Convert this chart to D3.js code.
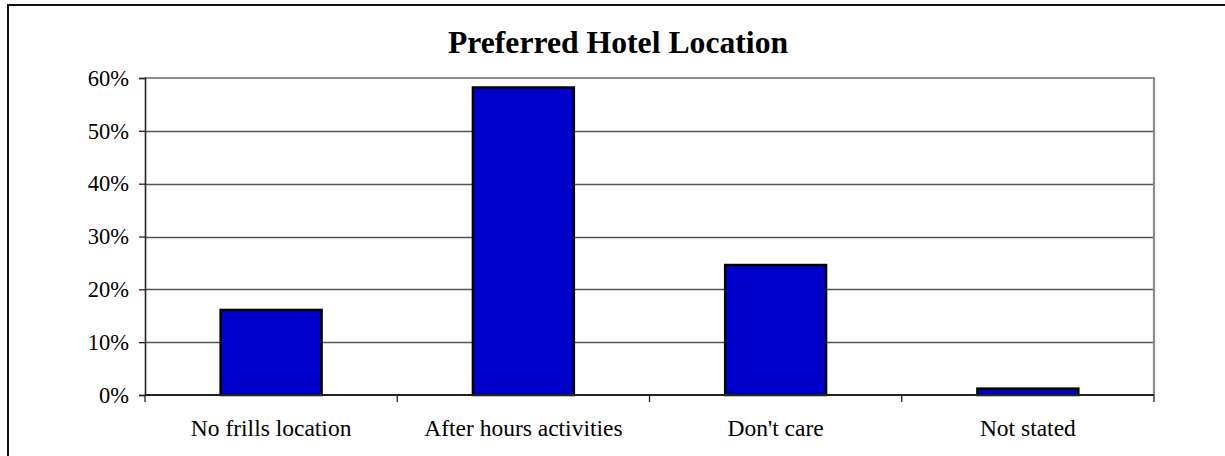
<!DOCTYPE html>
<html>
<head>
<meta charset="utf-8">
<script src="https://cdn.jsdelivr.net/npm/d3@7"></script>
<style>
  html, body { margin: 0; padding: 0; background: #fff; }
  svg { display: block; }
</style>
</head>
<body>
<svg id="chart" width="1225" height="456"></svg>
<script>
const categories = ["No frills location", "After hours activities", "Don't care", "Not stated"];
const values = [0.161, 0.582, 0.246, 0.012];
const yTicks = [0, 0.1, 0.2, 0.3, 0.4, 0.5, 0.6];
const titleText = "Preferred Hotel Location";

const svg = d3.select("#chart");
const font = "'Liberation Serif', 'Times New Roman', serif";

// outer chart border (extends past the right/bottom of the view)
svg.append("rect")
  .attr("x", 8).attr("y", 5).attr("width", 1220).attr("height", 470)
  .attr("fill", "#fff").attr("stroke", "#111").attr("stroke-width", 2);

const plot = { left: 145, right: 1154, top: 78, bottom: 395 };

const x = d3.scaleBand().domain(categories)
  .range([plot.left, plot.right]).paddingInner(0.6).paddingOuter(0.3);
const xOuter = d3.scaleBand().domain(categories).range([plot.left, plot.right]);
const y = d3.scaleLinear().domain([0, 0.6]).range([plot.bottom, plot.top]);

// gridlines
svg.append("g").selectAll("line")
  .data(yTicks.filter(t => t > 0 && t < 0.6))
  .join("line")
  .attr("x1", plot.left).attr("x2", plot.right)
  .attr("y1", d => Math.round(y(d)) + 0.5).attr("y2", d => Math.round(y(d)) + 0.5)
  .attr("stroke", "#555").attr("stroke-width", 1.3);

// plot area border (top + right) in gray
svg.append("path")
  .attr("d", `M${plot.left},${plot.top} H${plot.right} V${plot.bottom}`)
  .attr("fill", "none").attr("stroke", "#8c8c8c").attr("stroke-width", 2.2);

// bars
svg.append("g").selectAll("rect")
  .data(values)
  .join("rect")
  .attr("x", (d, i) => x(categories[i]))
  .attr("width", x.bandwidth())
  .attr("y", d => y(d))
  .attr("height", d => y(0) - y(d))
  .attr("fill", "#0000CC")
  .attr("stroke", "#000")
  .attr("stroke-width", 2.5);

// y axis
const yAxis = d3.axisLeft(y).tickValues(yTicks)
  .tickFormat(d3.format(".0%")).tickSize(6).tickPadding(10);
const gy = svg.append("g").attr("transform", `translate(${plot.left},0)`).call(yAxis);
gy.select(".domain").attr("stroke", "#222").attr("stroke-width", 1.6);
gy.selectAll(".tick line").attr("stroke", "#222").attr("stroke-width", 1.3);
gy.selectAll(".tick text").attr("font-family", font).attr("font-size", 22.5)
  .attr("fill", "#000");

// x axis
const gx = svg.append("g").attr("transform", `translate(0,${plot.bottom})`);
gx.append("line").attr("x1", plot.left).attr("x2", plot.right)
  .attr("y1", 0).attr("y2", 0).attr("stroke", "#222").attr("stroke-width", 2);
const boundaries = categories.map(c => xOuter(c)).concat([plot.right]);
gx.selectAll("line.tk").data(boundaries).join("line").attr("class", "tk")
  .attr("x1", d => d).attr("x2", d => d).attr("y1", 0).attr("y2", 7)
  .attr("stroke", "#222").attr("stroke-width", 1.3);
gx.selectAll("text").data(categories).join("text")
  .attr("x", d => x(d) + x.bandwidth() / 2)
  .attr("y", 41)
  .attr("text-anchor", "middle")
  .attr("font-family", font).attr("font-size", 23.5)
  .attr("fill", "#000")
  .text(d => d);

// title
svg.append("text")
  .attr("x", 618).attr("y", 53)
  .attr("text-anchor", "middle")
  .attr("font-family", font).attr("font-size", 31.7).attr("font-weight", "bold")
  .attr("fill", "#000")
  .text(titleText);
</script>
</body>
</html>
